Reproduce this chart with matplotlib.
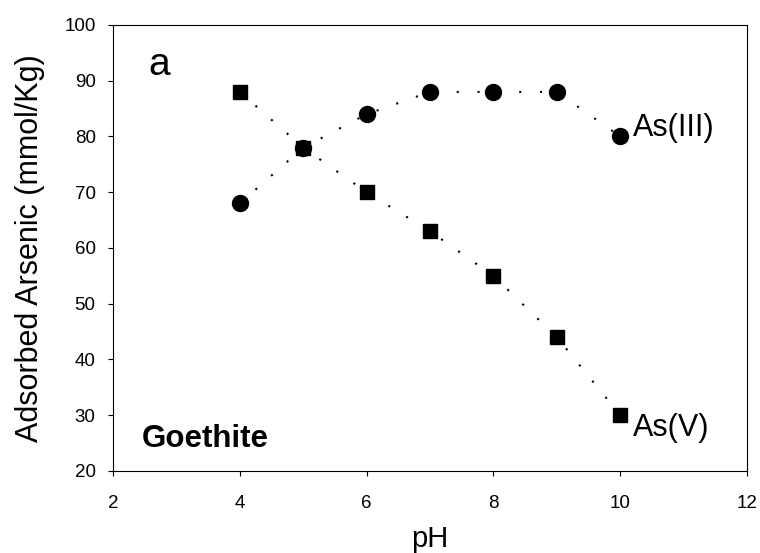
import matplotlib
matplotlib.use("Agg")
import matplotlib.pyplot as plt

plt.rcParams['font.family'] = ['Liberation Sans', 'DejaVu Sans']

# adsorption of arsenic on goethite vs pH
ph = [4, 5, 6, 7, 8, 9, 10]
as_iii = [68, 78, 84, 88, 88, 88, 80]
as_v = [88, 78, 70, 63, 55, 44, 30]

fig = plt.figure(figsize=(7.6, 5.53), dpi=100)
ax = fig.add_axes([0.1487, 0.1483, 0.8343, 0.8065])

dots = (0, (1, 9))
ax.plot(ph, as_iii, color='black', linestyle=dots, linewidth=1.5,
        marker='o', markersize=11.5)
ax.plot(ph, as_v, color='black', linestyle=dots, linewidth=1.5,
        marker='s', markersize=9.5)

ax.set_xlim(2, 12)
ax.set_ylim(20, 100)
ax.set_xticks(range(2, 13, 2))
ax.set_yticks(range(20, 101, 10))

for side in ax.spines.values():
    side.set_linewidth(0.8)

ax.tick_params(direction='out', length=3.5, width=0.8, labelsize=13.5,
               top=False, right=False)
ax.tick_params(axis='x', pad=14)
ax.tick_params(axis='y', pad=9)

ax.set_xlabel('pH', fontsize=21, labelpad=9)
ax.set_ylabel('Adsorbed Arsenic (mmol/Kg)', fontsize=22, labelpad=14)

ax.text(2.55, 92.8, 'a', fontsize=28, va='center', ha='left')
ax.text(2.46, 25.7, 'Goethite', fontsize=22.5, fontweight='bold',
        va='center', ha='left')
ax.text(10.2, 81.5, 'As(III)', fontsize=22, va='center', ha='left')
ax.text(10.2, 27.7, 'As(V)', fontsize=22, va='center', ha='left')

fig.savefig('out.png', dpi=100)
